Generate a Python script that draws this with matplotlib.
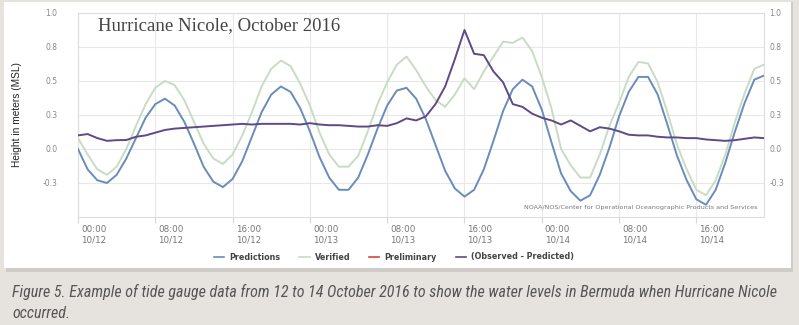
import matplotlib.pyplot as plt
import matplotlib.dates as mdates
import matplotlib.transforms as mtrans
from matplotlib.lines import Line2D
from matplotlib.patches import Rectangle
import pandas as pd

# hourly samples, 12 Oct 00:00 -> 14 Oct 23:00
start = "2016-10-12 00:00"
n_hours = 72

predictions = [0.00, -0.15, -0.23, -0.25, -0.19, -0.07, 0.08, 0.23, 0.33, 0.37,
               0.32, 0.20, 0.04, -0.13, -0.24, -0.28, -0.22, -0.09, 0.09, 0.27,
               0.40, 0.46, 0.42, 0.30, 0.13, -0.06, -0.21, -0.30, -0.30, -0.21,
               -0.04, 0.15, 0.32, 0.43, 0.45, 0.37, 0.22, 0.03, -0.16, -0.29,
               -0.35, -0.30, -0.15, 0.06, 0.28, 0.44, 0.51, 0.46, 0.29, 0.05,
               -0.18, -0.31, -0.38, -0.34, -0.19, 0.01, 0.24, 0.42, 0.53, 0.53,
               0.40, 0.18, -0.05, -0.23, -0.37, -0.41, -0.30, -0.10, 0.13, 0.34,
               0.51, 0.54]

verified = [0.08, -0.04, -0.15, -0.19, -0.13, 0.00, 0.17, 0.33, 0.45, 0.50,
            0.47, 0.36, 0.20, 0.04, -0.07, -0.11, -0.04, 0.10, 0.27, 0.46,
            0.59, 0.65, 0.61, 0.48, 0.32, 0.12, -0.04, -0.13, -0.13, -0.05,
            0.13, 0.33, 0.49, 0.62, 0.68, 0.58, 0.46, 0.36, 0.31, 0.40,
            0.52, 0.44, 0.57, 0.68, 0.79, 0.78, 0.82, 0.72, 0.53, 0.30,
            0.00, -0.12, -0.21, -0.21, -0.04, 0.17, 0.34, 0.53, 0.64, 0.63,
            0.49, 0.27, 0.03, -0.15, -0.30, -0.34, -0.23, -0.04, 0.20, 0.41,
            0.59, 0.62]

obs_minus_pred = [0.10, 0.11, 0.08, 0.06, 0.065, 0.066, 0.09, 0.10, 0.12, 0.14,
                  0.15, 0.155, 0.16, 0.165, 0.17, 0.175, 0.18, 0.185, 0.18, 0.185,
                  0.185, 0.185, 0.185, 0.18, 0.19, 0.18, 0.175, 0.175, 0.17, 0.165,
                  0.165, 0.175, 0.17, 0.19, 0.225, 0.21, 0.24, 0.33, 0.46, 0.66,
                  0.875, 0.70, 0.69, 0.57, 0.49, 0.33, 0.31, 0.26, 0.23, 0.21,
                  0.18, 0.21, 0.17, 0.13, 0.16, 0.15, 0.13, 0.105, 0.10, 0.10,
                  0.09, 0.085, 0.085, 0.08, 0.08, 0.07, 0.065, 0.06, 0.065, 0.075,
                  0.085, 0.08]

ytick_vals = [-0.25, 0.0, 0.25, 0.5, 0.75, 1.0]
ytick_labels = ["-0.3", "0.0", "0.3", "0.5", "0.8", "1.0"]

times = pd.date_range(start, periods=n_hours, freq="h")

c_pred = "#6a8cba"
c_ver = "#c8dcc4"
c_prel = "#e0413c"
c_obs = "#5d4a86"

fig = plt.figure(figsize=(7.99, 3.25), dpi=100)
fig.patch.set_facecolor("#e6e3df")
W, H = 799, 325

# white panel with soft shadow
fig.patches.append(Rectangle((6 / W, (325 - 272) / H), 787 / W, 270 / H,
                             transform=fig.transFigure, facecolor="#cfccc8",
                             edgecolor="none", zorder=-2))
fig.patches.append(Rectangle((4 / W, (325 - 268) / H), 787 / W, 266 / H,
                             transform=fig.transFigure, facecolor="white",
                             edgecolor="none", zorder=-1))

ax = fig.add_axes([78 / W, 1 - 217 / H, 686 / W, 204 / H])
ax.set_facecolor("white")

ax.plot(times, verified, color=c_ver, lw=1.4, zorder=3)
ax.plot(times, predictions, color=c_pred, lw=1.4, zorder=4)
ax.plot(times, obs_minus_pred, color=c_obs, lw=1.4, zorder=5)

ax.set_xlim(times[0], times[-1])
ax.set_ylim(-0.5, 1.0)
ax.set_yticks(ytick_vals)
ax.set_yticklabels(ytick_labels)
ax.xaxis.set_major_locator(mdates.HourLocator(byhour=[0, 8, 16]))
ax.xaxis.set_major_formatter(mdates.DateFormatter("%H:%M\n%m/%d"))
for lab in ax.get_xticklabels():
    lab.set_horizontalalignment("left")

ax.tick_params(axis="x", colors="#d8d8d8", labelcolor="#777777", labelsize=6.3,
               length=4, pad=2)
ax.tick_params(axis="y", length=0, labelcolor="#888888", labelsize=5.5, pad=15)
ax.grid(True, color="#e8e8e8", lw=0.8)
for s in ax.spines.values():
    s.set_color("#dddddd")
    s.set_linewidth(0.8)

# right hand copy of the y axis
ax_r = ax.secondary_yaxis("right")
ax_r.set_yticks(ytick_vals)
ax_r.set_yticklabels(ytick_labels)
ax_r.tick_params(axis="y", length=0, labelcolor="#888888", labelsize=5.5, pad=4)
ax_r.spines["right"].set_visible(False)

# shift x tick labels slightly right of the ticks
offset = mtrans.ScaledTranslation(3 / 100, 0, fig.dpi_scale_trans)
for lab in ax.get_xticklabels():
    lab.set_transform(lab.get_transform() + offset)

ax.set_ylabel("Height in meters (MSL)", fontsize=7.3, color="#222222",
              family="Liberation Sans")
ax.yaxis.set_label_coords(-56 / 686, 0.5)

fig.text(98 / W, 1 - 26 / H, "Hurricane Nicole, October 2016",
         family="Liberation Serif", fontsize=13.5, color="#444444", va="center")

ax.text(0.99, 0.045, "NOAA/NOS/Center for Operational Oceanographic Products and Services",
        transform=ax.transAxes, ha="right", va="center", fontsize=4.6, color="#777777")

handles = [Line2D([], [], color=c_pred, lw=1.2),
           Line2D([], [], color=c_ver, lw=1.2),
           Line2D([], [], color=c_prel, lw=1.2),
           Line2D([], [], color=c_obs, lw=1.2)]
labels = ["Predictions", "Verified", "Preliminary", "(Observed - Predicted)"]
leg = fig.legend(handles, labels, loc="center", bbox_to_anchor=(394 / W, 1 - 257 / H),
                 ncol=4, frameon=False, handlelength=1.3,
                 handletextpad=0.65, columnspacing=2.3,
                 prop={"size": 5.8, "weight": "semibold"})
for t in leg.get_texts():
    t.set_color("#444444")

cap_kw = dict(family=["Roboto Condensed", "Roboto"], style="italic",
              fontsize=11, color="#555555", va="center")
cap1 = fig.text(12 / W, 1 - 292 / H,
                "Figure 5. Example of tide gauge data from 12 to 14 October 2016 to show "
                "the water levels in Bermuda when Hurricane Nicole", **cap_kw)
cap2 = fig.text(12 / W, 1 - 314 / H, "occurred.", **cap_kw)

# fit the caption line to the width it has in the figure (~765 px)
fig.canvas.draw()
w = cap1.get_window_extent().width
fs = 11 * 765 / w
cap1.set_fontsize(fs)
cap2.set_fontsize(fs)

fig.savefig("out.png", dpi=100, facecolor=fig.get_facecolor())
